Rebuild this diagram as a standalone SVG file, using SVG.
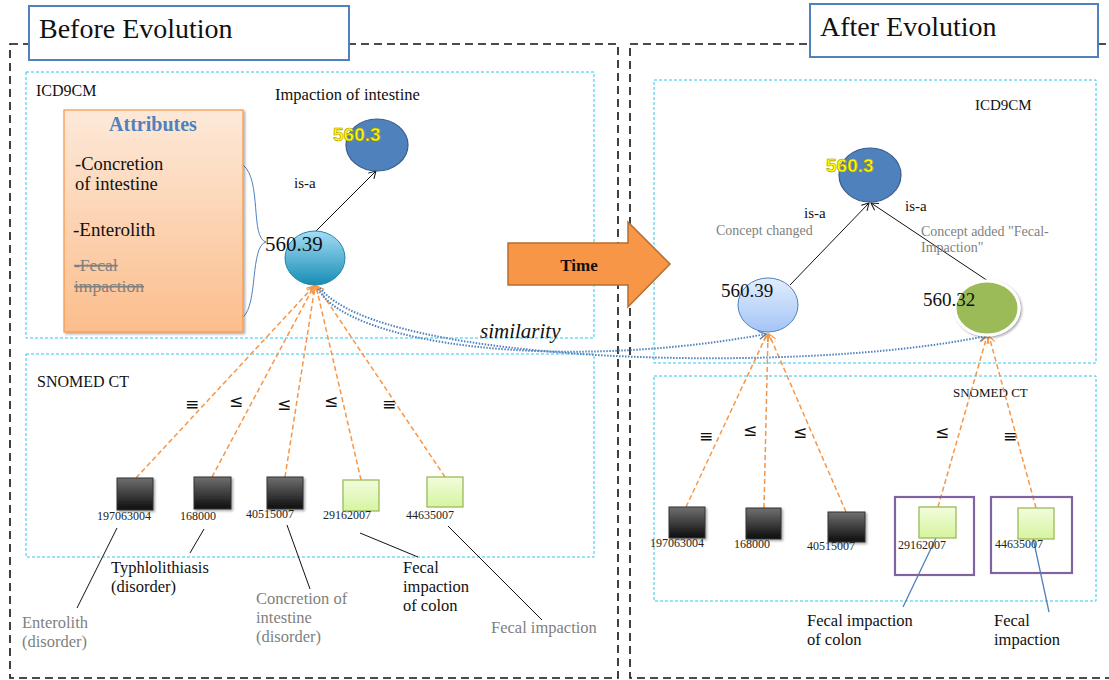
<svg xmlns="http://www.w3.org/2000/svg" width="1109" height="680" viewBox="0 0 1109 680">
<defs>
<style>
.serif{font-family:"Liberation Serif","DejaVu Serif",serif;}
.sans{font-family:"DejaVu Sans","Liberation Sans",sans-serif;}
.outer{fill:none;stroke:#111;stroke-width:1.6;stroke-dasharray:8 5;}
.panel{fill:none;stroke:#2ec8f0;stroke-width:1;stroke-dasharray:3 2;}
.title{fill:#fff;stroke:#4f81bd;stroke-width:2;}
.orange{fill:none;stroke:#f79646;stroke-width:1.5;stroke-dasharray:5 3;}
.isa{fill:none;stroke:#111;stroke-width:1;}
.note{fill:none;stroke:#111;stroke-width:1;}
.bluenote{fill:none;stroke:#4f81bd;stroke-width:1.3;}
.sim{fill:none;stroke:#4f81bd;stroke-width:2;stroke-dasharray:1.5 1.5;}
.blk{fill:url(#gBlack);stroke:#333;stroke-width:1;}
.grn{fill:url(#gGreen);stroke:#9bbb59;stroke-width:1.3;}
.purple{fill:none;stroke:#8064a2;stroke-width:2.2;}
.code{font-size:12px;fill:#222;}
.sym{font-size:17px;fill:#111;}
.yl{font-family:"Liberation Sans",Arial,sans-serif;font-weight:bold;font-size:19px;fill:#ffff00;stroke:#a89000;stroke-width:0.6;}
.lbl{font-size:16.5px;fill:#111;}
.gray{fill:#7f7f7f;}
</style>
<linearGradient id="gBlack" x1="0" y1="0" x2="0" y2="1"><stop offset="0" stop-color="#707070"/><stop offset="1" stop-color="#0d0d0d"/></linearGradient>
<linearGradient id="gGreen" x1="0" y1="0" x2="0" y2="1"><stop offset="0" stop-color="#f2fcdc"/><stop offset="1" stop-color="#d6f4a0"/></linearGradient>
<linearGradient id="gAttr" x1="0" y1="0" x2="0" y2="1"><stop offset="0" stop-color="#fde9d9"/><stop offset="1" stop-color="#fbbe8c"/></linearGradient>
<linearGradient id="gTeal" x1="0" y1="0" x2="0" y2="1"><stop offset="0" stop-color="#a6dcf5"/><stop offset="1" stop-color="#168db4"/></linearGradient>
<linearGradient id="gLight" x1="0" y1="0" x2="0" y2="1"><stop offset="0" stop-color="#e2eefd"/><stop offset="1" stop-color="#a4c4f6"/></linearGradient>
<filter id="sh" x="-20%" y="-20%" width="150%" height="150%"><feDropShadow dx="1.5" dy="1.5" stdDeviation="1.2" flood-color="#000" flood-opacity="0.35"/></filter>
<marker id="aBlack" markerWidth="10" markerHeight="10" refX="8" refY="5" orient="auto" markerUnits="userSpaceOnUse"><path d="M1,1 L8,5 L1,9" fill="none" stroke="#111" stroke-width="1"/></marker>
<marker id="aOrange" markerWidth="10" markerHeight="10" refX="8" refY="5" orient="auto" markerUnits="userSpaceOnUse"><path d="M1,1 L8,5 L1,9" fill="none" stroke="#f79646" stroke-width="1.2"/></marker>
<marker id="aBlue" markerWidth="10" markerHeight="10" refX="8" refY="5" orient="auto" markerUnits="userSpaceOnUse"><path d="M1,1 L8,5 L1,9" fill="none" stroke="#4f81bd" stroke-width="1.2"/></marker>
</defs>
<rect width="1109" height="680" fill="#fff"/>

<!-- outer dashed frames -->
<g id="frames">
<rect class="outer" x="10" y="44" width="608" height="634"/>
<rect class="outer" x="630" y="44" width="490" height="634"/>
<rect class="panel" x="26" y="72" width="568" height="266"/>
<rect class="panel" x="26" y="354" width="568" height="203"/>
<rect class="panel" x="654" y="80" width="442" height="283"/>
<rect class="panel" x="654" y="376" width="442" height="225"/>
<text class="serif" x="36" y="96" font-size="16" fill="#111">ICD9CM</text>
<text class="serif" x="37" y="387" font-size="16" fill="#111">SNOMED CT</text>
<text class="serif" x="975" y="110" font-size="15" fill="#111">ICD9CM</text>
<text class="serif" x="953" y="397" font-size="13" fill="#111">SNOMED CT</text>
</g>

<g id="title-before">
<rect class="title" x="29" y="6" width="320" height="54"/>
<text class="serif" x="39" y="38" font-size="28" fill="#111">Before Evolution</text>
</g>
<g id="title-after">
<rect class="title" x="810" y="4" width="288" height="53"/>
<text class="serif" x="820" y="36" font-size="28" fill="#111">After Evolution</text>
</g>

<g id="time-arrow">
<path d="M508,243 L628,243 L628,222 L670,264 L628,307 L628,285 L508,285 Z" fill="#f79646" stroke="#b66d31" stroke-width="1.5"/>
<text class="serif" x="579" y="271" font-size="17" font-weight="bold" text-anchor="middle" fill="#111">Time</text>
</g>

<!-- connectors -->
<g id="connectors">
<path class="isa" d="M316,231 L376,171" marker-end="url(#aBlack)"/>
<path class="isa" d="M790,285 L869,203" marker-end="url(#aBlack)"/>
<path class="isa" d="M988,281 L871,203" marker-end="url(#aBlack)"/>
<path d="M243,165 C262,180 250,238 266,242 C250,246 258,305 243,317" fill="none" stroke="#4f81bd" stroke-width="1"/>
<path class="orange" d="M136,478 L314,286" marker-end="url(#aOrange)"/>
<path class="orange" d="M212,477 L314,286" marker-end="url(#aOrange)"/>
<path class="orange" d="M285,477 L315,286" marker-end="url(#aOrange)"/>
<path class="orange" d="M361,480 L316,286" marker-end="url(#aOrange)"/>
<path class="orange" d="M445,477 L317,286" marker-end="url(#aOrange)"/>
<path class="orange" d="M686,507 L767,334" marker-end="url(#aOrange)"/>
<path class="orange" d="M764,508 L768,334" marker-end="url(#aOrange)"/>
<path class="orange" d="M846,512 L769,334" marker-end="url(#aOrange)"/>
<path class="orange" d="M938,507 L987,336" marker-end="url(#aOrange)"/>
<path class="orange" d="M1036,508 L989,336" marker-end="url(#aOrange)"/>
<path class="sim" d="M318,289 C350,345 560,372 766,334" marker-end="url(#aBlue)"/>
<path class="sim" d="M320,288 C380,365 800,375 986,336" marker-end="url(#aBlue)"/>
<path class="note" d="M117,528 L77,608"/>
<path class="note" d="M204,529 L190,553"/>
<path class="note" d="M287,525 L310,589"/>
<path class="note" d="M360,533 L418,557"/>
<path class="note" d="M448,526 L542,620"/>
<path class="bluenote" d="M936,538 L903,607"/>
<path class="bluenote" d="M1033,538 L1049,612"/>
</g>

<g id="attributes">
<rect x="64" y="110" width="179" height="222" fill="url(#gAttr)" stroke="#f79646" stroke-width="1.2" filter="url(#sh)"/>
<text class="serif" x="153" y="131" font-size="20" font-weight="bold" fill="#4f81bd" text-anchor="middle">Attributes</text>
<text class="serif" x="75" y="170" font-size="18.5" fill="#111">-Concretion</text>
<text class="serif" x="75" y="190" font-size="18.5" fill="#111">of intestine</text>
<text class="serif" x="73" y="236" font-size="19" fill="#111">-Enterolith</text>
<text class="serif" x="74" y="271" font-size="17.5" fill="#808080" text-decoration="line-through">-Fecal</text>
<text class="serif" x="74" y="292" font-size="17.5" fill="#808080" text-decoration="line-through">impaction</text>
</g>

<g id="b-5603">
<text class="serif" x="275" y="100" font-size="16.5" fill="#111">Impaction of intestine</text>
<ellipse cx="377" cy="145" rx="31" ry="26" fill="#4f81bd" stroke="#385d8a" stroke-width="1.2"/>
<text class="yl" x="333" y="141">560.3</text>
<text class="serif" x="294" y="188" font-size="15" fill="#111">is-a</text>
</g>
<g id="b-56039">
<ellipse cx="315" cy="258" rx="30" ry="27" fill="url(#gTeal)" stroke="#1f87ab" stroke-width="1"/>
<text class="serif" x="265" y="251" font-size="21" fill="#111">560.39</text>
</g>

<g id="b-197063004"><rect class="blk" x="117" y="478" width="36" height="32" filter="url(#sh)"/><text class="serif code" x="97" y="520">197063004</text></g>
<g id="b-168000"><rect class="blk" x="194" y="477" width="37" height="32" filter="url(#sh)"/><text class="serif code" x="180" y="520" fill="#555">168000</text></g>
<g id="b-40515007"><rect class="blk" x="267" y="477" width="36" height="32" filter="url(#sh)"/><text class="serif code" x="246" y="518">40515007</text></g>
<g id="b-29162007"><rect class="grn" x="343" y="480" width="36" height="31"/><text class="serif code" x="323" y="519" fill="#555">29162007</text></g>
<g id="b-44635007"><rect class="grn" x="427" y="477" width="36" height="30"/><text class="serif code" x="406" y="519">44635007</text></g>

<g id="b-symbols">
<text class="sans sym" x="192" y="410" text-anchor="middle">≡</text>
<text class="sans sym" x="236" y="407" text-anchor="middle">≤</text>
<text class="sans sym" x="284" y="410" text-anchor="middle">≤</text>
<text class="sans sym" x="331" y="407" text-anchor="middle">≤</text>
<text class="sans sym" x="389" y="410" text-anchor="middle">≡</text>
</g>

<g id="b-labels">
<text class="serif lbl gray" x="22" y="628">Enterolith</text>
<text class="serif lbl gray" x="22" y="647">(disorder)</text>
<text class="serif lbl" x="111" y="573">Typhlolithiasis</text>
<text class="serif lbl" x="111" y="592">(disorder)</text>
<text class="serif lbl gray" x="256" y="604">Concretion of</text>
<text class="serif lbl gray" x="256" y="623">intestine</text>
<text class="serif lbl gray" x="256" y="642">(disorder)</text>
<text class="serif lbl" x="403" y="573">Fecal</text>
<text class="serif lbl" x="403" y="592">impaction</text>
<text class="serif lbl" x="403" y="611">of colon</text>
<text class="serif lbl gray" x="491" y="633">Fecal impaction</text>
<text class="serif" x="480" y="338" font-size="21" font-style="italic" fill="#111">similarity</text>
</g>

<!-- after -->
<g id="a-5603">
<ellipse cx="870" cy="175" rx="31" ry="27" fill="#4f81bd" stroke="#385d8a" stroke-width="1.2"/>
<text class="yl" x="826" y="172">560.3</text>
<text class="serif" x="804" y="218" font-size="15" fill="#111">is-a</text>
<text class="serif" x="905" y="211" font-size="15" fill="#111">is-a</text>
<text class="serif" x="716" y="235" font-size="14" fill="#7f7f7f">Concept changed</text>
<text class="serif" x="921" y="236" font-size="14" fill="#7f7f7f">Concept added "Fecal-</text>
<text class="serif" x="921" y="252" font-size="14" fill="#7f7f7f">Impaction"</text>
</g>
<g id="a-56039">
<ellipse cx="768" cy="305" rx="30" ry="27" fill="url(#gLight)" stroke="#4f81bd" stroke-width="1"/>
<text class="serif" x="721" y="297" font-size="19" fill="#111">560.39</text>
</g>
<g id="a-56032">
<ellipse cx="987" cy="308" rx="32" ry="27" fill="#9bbb59" stroke="#fff" stroke-width="3" filter="url(#sh)"/>
<text class="serif" x="923" y="306" font-size="19" fill="#111">560.32</text>
</g>

<g id="a-197063004"><rect class="blk" x="669" y="507" width="36" height="31" filter="url(#sh)"/><text class="serif code" x="650" y="547">197063004</text></g>
<g id="a-168000"><rect class="blk" x="746" y="508" width="35" height="31" filter="url(#sh)"/><text class="serif code" x="734" y="548" fill="#555">168000</text></g>
<g id="a-40515007"><rect class="blk" x="828" y="512" width="37" height="30" filter="url(#sh)"/><text class="serif code" x="807" y="550">40515007</text></g>
<g id="a-29162007">
<rect class="purple" x="895" y="497" width="79" height="78"/>
<rect class="grn" x="919" y="507" width="37" height="31"/><text class="serif code" x="898" y="549" fill="#555">29162007</text></g>
<g id="a-44635007">
<rect class="purple" x="991" y="497" width="81" height="76"/>
<rect class="grn" x="1018" y="508" width="36" height="31"/><text class="serif code" x="995" y="548">44635007</text></g>

<g id="a-symbols">
<text class="sans sym" x="706" y="442" text-anchor="middle">≡</text>
<text class="sans sym" x="750" y="436" text-anchor="middle">≤</text>
<text class="sans sym" x="800" y="438" text-anchor="middle">≤</text>
<text class="sans sym" x="942" y="438" text-anchor="middle">≤</text>
<text class="sans sym" x="1010" y="442" text-anchor="middle">≡</text>
</g>
<g id="a-labels">
<text class="serif lbl" x="807" y="626">Fecal impaction</text>
<text class="serif lbl" x="807" y="645">of colon</text>
<text class="serif lbl" x="994" y="626">Fecal</text>
<text class="serif lbl" x="994" y="645">impaction</text>
</g>
</svg>
